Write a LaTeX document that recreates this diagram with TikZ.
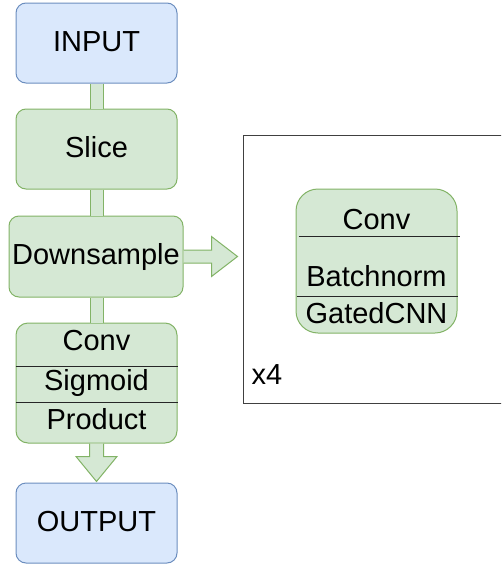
\documentclass[tikz,border=0pt]{standalone}
\usepackage{fontspec}
\setmainfont{Liberation Sans}
\usetikzlibrary{calc}
\definecolor{bluefill}{HTML}{DAE8FC}
\definecolor{blueline}{HTML}{6C8EBF}
\definecolor{greenfill}{HTML}{D5E8D4}
\definecolor{greenline}{HTML}{82B366}
% horizontal rule across a block: #1 block, #2/#3 left/right nudge, #4 depth below its top
\newcommand\blockrule[4]{%
\draw[divline] ($(#1.north west)+(#2,#4)$) -- ($(#1.north east)+(#3,#4)$);
}

\begin{document}
\begin{tikzpicture}[x=1pt,y=-1pt,
	every node/.style={font=\fontsize{29}{34}\selectfont},
	blueblock/.style={draw=blueline, fill=bluefill, line width=1pt, rounded corners=10pt,
		minimum width=161pt, minimum height=80pt, inner sep=2pt, text height=22pt, text depth=6pt},
	greenblock/.style={blueblock, draw=greenline, fill=greenfill},
	lbl/.style={inner sep=0pt, anchor=base},
	link/.style={draw=greenline, line width=1pt, double=greenfill, double distance=12pt},
	bigarrow/.style={draw=greenline, fill=greenfill, line width=1pt, line join=miter},
	divline/.style={draw=black!85, line width=1pt},
	repframe/.style={draw=black!75, line width=1pt, minimum width=287pt, minimum height=268pt, inner sep=0pt}]
	%% page size
	\useasboundingbox (0,0) rectangle (501,565);
	\clip (0,0) rectangle (501,565);

	\def\barw{7} % half width of an arrow body
	\def\headw{20.5} % half width of an arrow head
	\def\headl{25} % length of an arrow head

	% main column
	\node[blueblock] (input) at (96.5,43) {INPUT};
	\node[greenblock] (slice) at (96.5,149) {Slice};
	\node[greenblock, minimum width=174pt, minimum height=81pt] (down) at (96,256.5) {Downsample};
	\node[greenblock, minimum height=120pt, rounded corners=12pt] (gate) at (96.5,383) {};
	\node[blueblock] (output) at (96.5,523) {OUTPUT};

	\draw[link] (input.south) -- (slice.north);
	\draw[link] (slice.south) -- (slice.south |- down.north);
	\draw[link] (gate.north |- down.south) -- (gate.north);

	% gated layer
	\node[lbl] (gconv) at ($(gate.north)+(0,28)$) {Conv};
	\node[lbl] (gsig) at ($(gate.north)+(0,67.5)$) {Sigmoid};
	\node[lbl] (gprod) at ($(gate.north)+(0,107)$) {Product};
	\blockrule{gate}{0}{0}{44}
	\blockrule{gate}{0}{0}{80}

	% down into the output
	\coordinate (dtip) at ($(output.north)+(0,-1)$);
	\draw[bigarrow] ($(gate.south)+(-\barw,0)$) -- ($(dtip)+(-\barw,-\headl)$)
		-- ($(dtip)+(-\headw,-\headl)$) -- (dtip) -- ($(dtip)+(\headw,-\headl)$)
		-- ($(dtip)+(\barw,-\headl)$) -- ($(gate.south)+(\barw,0)$);

	% repeated residual block
	\node[repframe] (rep) at (386.5,269) {};
	\node[greenblock, minimum height=144pt, rounded corners=22pt] (blk) at (376.5,261) {};
	\node[lbl] (bconv) at ($(blk.north)+(0,41)$) {Conv};
	\node[lbl] (bnorm) at ($(blk.north)+(0,98)$) {Batchnorm};
	\node[lbl] (bgate) at ($(blk.north)+(0,135)$) {GatedCNN};
	\blockrule{blk}{3}{2}{48}
	\blockrule{blk}{1}{0}{108}
	\node[lbl, anchor=base west] (reps) at ($(rep.south west)+(9,-19)$) {x4};

	% across into the repeated block
	\coordinate (rtip) at ($(down.east -| rep.west)+(-5,0)$);
	\draw[bigarrow] ($(down.east)+(0,-6.5)$) -- ($(rtip)+(-26,-6.5)$)
		-- ($(rtip)+(-26,-20)$) -- (rtip) -- ($(rtip)+(-26,20)$)
		-- ($(rtip)+(-26,6.5)$) -- ($(down.east)+(0,6.5)$);

\end{tikzpicture}
\end{document}
